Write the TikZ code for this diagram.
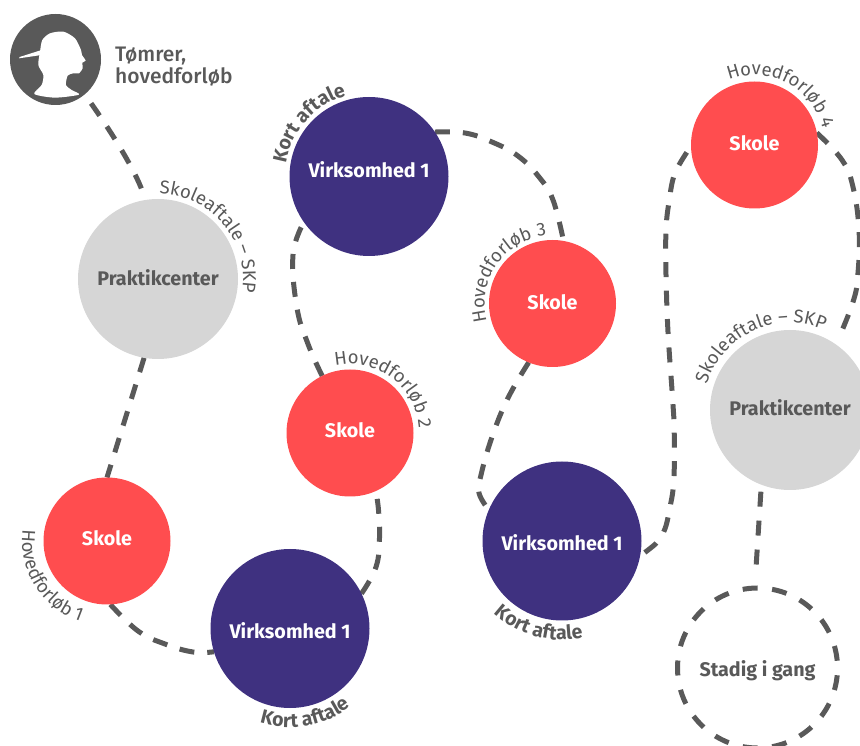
\documentclass[tikz,border=0pt]{standalone}
\usepackage{fontspec}
\setmainfont{Fira Sans}
\newfontfamily\medf{Fira Sans Medium}
\usetikzlibrary{decorations.text}
\pgfdeclarelayer{back}
\pgfsetlayers{back,main}
\definecolor{ink}{HTML}{595959}
\definecolor{redc}{HTML}{FF4D4F}
\definecolor{navy}{HTML}{3F3180}
\definecolor{greyc}{HTML}{D6D6D6}
\newcommand\lblfont{\fontsize{18.5}{18.5}\selectfont}
\newcommand\boldlbl{\bfseries\fontsize{19.5}{19.5}\selectfont}
\newcommand\base[2]{\smash{\raisebox{#1pt}{#2}}}
% cx cy r start end format text
\newcommand\arclabel[7]{\path[decorate,decoration={text along path,text align=center,text color=ink,text={|#6|#7}}] (#1,#2) ++(#4:#3) arc[start angle=#4,end angle=#5,radius=#3];}
\tikzset{
  stage/.style={circle,inner sep=0pt,outer sep=0pt,font=\bfseries\fontsize{19.7}{21}\selectfont},
  skole/.style={stage,fill=redc,text=white,minimum size=127},
  firm/.style={stage,fill=navy,text=white,minimum size=159},
  center/.style={stage,fill=greyc,text=ink,minimum size=160},
  route/.style={draw=ink,line width=5pt,dash pattern=on 15pt off 13pt}
}
\begin{document}
\begin{tikzpicture}[x=1pt,y=1pt]
\useasboundingbox (0,0) rectangle (860,745);
\node[circle,fill=ink,minimum size=91,inner sep=0,outer sep=0] (head) at (55.5,685.5) {};
\begin{scope}[shift={(5,735)},x=0.3333pt,y=-0.3333pt]
\fill[white] plot[smooth cycle,tension=.45] coordinates {(105,125) (112,90) (135,70) (175,65) (210,85) (228,120) (231,135) (242,152) (232,158) (233,175) (222,190) (205,190) (188,197) (183,225) (200,240) (222,254) (150,263) (88,252) (110,225) (115,195) (100,165)};
\fill[white] (42,145) -- (44,141) -- (110,120) -- (110,135) -- cycle;
\end{scope}
\node[anchor=north west,align=left,text=ink,font=\medf\fontsize{21}{21.5}\selectfont,inner sep=0] (title) at (115,698) {Tømrer,\\hovedforløb};
\node[center] (p1) at (158,466) {\base{-7}{Praktikcenter}};
\node[skole] (s1) at (107,204) {\base{-5}{Skole}};
\node[firm] (v1) at (290,116.5) {\base{-10.5}{Virksomhed 1}};
\node[firm] (v2) at (369,568.5) {\base{-1.5}{Virksomhed 1}};
\node[skole] (s2) at (350,312) {\base{-5}{Skole}};
\node[skole] (s3) at (552.5,441.5) {\base{-6.5}{Skole}};
\node[firm] (v3) at (562,204) {\base{-10}{Virksomhed 1}};
\node[skole] (s4) at (754.5,600) {\base{-6}{Skole}};
\node[center] (p2) at (790,335) {\base{-6}{Praktikcenter}};
\node[stage,draw=ink,line width=5pt,dash pattern=on 15pt off 14.57pt,dash phase=22.3pt,text=ink,minimum size=160] (st) at (757.5,77) {\base{-9}{Stadig i gang}};
\begin{pgfonlayer}{back}
\draw[route,shorten <=11pt,shorten >=8pt] (head.-50) .. controls (112,612) and (135,575) .. (p1.99);
\draw[route] (p1.-100) -- (s1.90);
\draw[route] plot[smooth,tension=.7] coordinates {(s1.-87) (138,114) (165,101) (193,93) (v1.197)};
\draw[route] plot[smooth,tension=.7] coordinates {(v1.26) (376,178) (379.5,207) (378.5,235) (s2.-66)};
\draw[route] plot[smooth,tension=.7] coordinates {(s2.116) (308,401) (297,437) (293,490) (v2.215)};
\draw[route] plot[smooth,tension=.7] coordinates {(v2.34) (465,612) (492,603) (518,589) (539,568) (553,545) (s3.80)};
\draw[route] plot[smooth,tension=.7] coordinates {(s3.-112) (508,347) (492,308) (481,270) (479,252) (v3.157)};
\draw[route,shorten <=6pt,dash pattern=on 15pt off 13.45pt] plot[smooth,tension=.6] coordinates {(v3.-11) (662,210) (670,238) (674,268) (674,325) (672,355) (668,413) (666,470) (666,515) (669,543) (675,572) (s4.181)};
\draw[route,shorten >=14pt] plot[smooth,tension=.7] coordinates {(s4.11) (842,585) (853,558) (859,515) (858,472) (853,443) (p2.55)};
\draw[route,shorten <=7pt,shorten >=12pt,dash pattern=on 15pt off 14pt] (p2.-111) -- (st.92);
\end{pgfonlayer}
\arclabel{158}{466}{85}{120}{-40}{\lblfont}{Skoleaftale – SKP}
\arclabel{790}{335}{87}{190}{40}{\lblfont}{Skoleaftale – SKP}
\arclabel{107}{204}{85}{157}{267}{\lblfont}{Hovedforløb 1}
\arclabel{350}{312}{69}{138}{-32}{\lblfont}{Hovedforløb 2}
\arclabel{552.5}{441.5}{68}{230}{60}{\lblfont}{Hovedforløb 3}
\arclabel{754.5}{600}{70}{150}{-25}{\lblfont}{Hovedforløb 4}
\arclabel{290}{116.5}{99}{230}{330}{\boldlbl}{Kort aftale}
\arclabel{369}{568.5}{84}{191}{86}{\boldlbl}{Kort aftale}
\arclabel{562}{204}{99}{201}{308}{\boldlbl}{Kort aftale}
\end{tikzpicture}
\end{document}
